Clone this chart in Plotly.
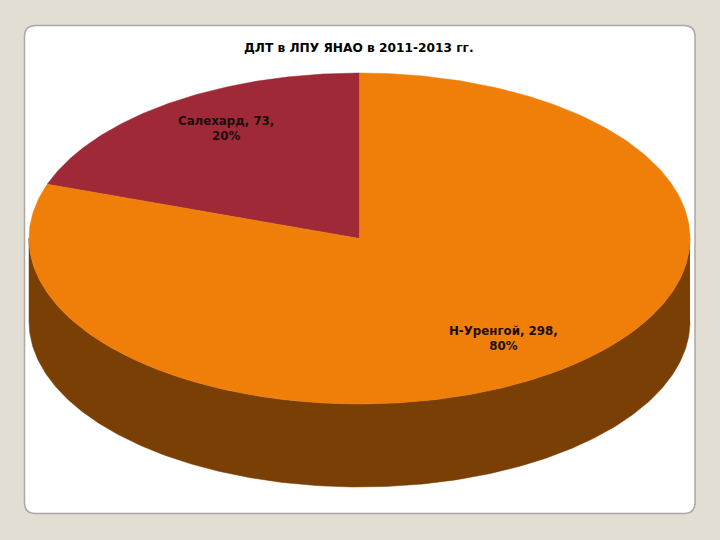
import numpy as np
import plotly.graph_objects as go

title = "ДЛТ в ЛПУ ЯНАО в 2011-2013 гг."
labels = ["Салехард", "Н-Уренгой"]
values = [73, 298]
percents = [20, 80]

top_colors = ["#9f2936", "#f07f09"]
side_color = "#793f04"
bg_color = "#e3ded4"

# ellipse of the pie in page pixels
cx, cy = 359.5, 238.5
rx, ry = 330.5, 165.5
depth = 83

def rim(a0, a1, drop=0):
    # angle is clockwise from 12 o'clock
    t = np.linspace(a0, a1, 300)
    return cx + rx * np.sin(t), cy - ry * np.cos(t) + drop

fig = go.Figure()

# side wall, front half of the ellipse only
x_top, y_top = rim(np.pi / 2, 3 * np.pi / 2)
x_low, y_low = rim(3 * np.pi / 2, np.pi / 2, depth)
fig.add_trace(go.Scatter(x=np.r_[x_top, x_low], y=np.r_[y_top, y_low], mode="lines",
                         fill="toself", fillcolor=side_color, line=dict(width=0.5, color=side_color),
                         hoverinfo="skip"))

# slices go anticlockwise from the top, as in the picture
total = sum(values)
start = 2 * np.pi
for label, value, color in zip(labels, values, top_colors):
    end = start - 2 * np.pi * value / total
    x, y = rim(start, end)
    fig.add_trace(go.Scatter(x=np.r_[cx, x, cx], y=np.r_[cy, y, cy], mode="lines",
                             fill="toself", fillcolor=color, line=dict(width=0.5, color=color),
                             name=label, hoverinfo="name"))
    start = end

label_pos = [(226, 128), (503, 338)]
for label, value, pct, (lx, ly) in zip(labels, values, percents, label_pos):
    fig.add_annotation(x=lx, y=ly, text=f"{label}, {value},<br>{pct}%", showarrow=False,
                       font=dict(family="DejaVu Sans", size=11.8, color="#1a0d0d", weight="bold"),
                       align="center")

fig.add_annotation(x=359, y=47.5, text=title, showarrow=False,
                   font=dict(family="DejaVu Sans", size=12.2, color="#000000", weight="bold"))

# white rounded panel behind the chart
x0, x1, y0, y1, r = 24.5, 695, 25.5, 513.5, 11
panel = (f"M {x0 + r} {y0} L {x1 - r} {y0} Q {x1} {y0} {x1} {y0 + r} L {x1} {y1 - r} "
         f"Q {x1} {y1} {x1 - r} {y1} L {x0 + r} {y1} Q {x0} {y1} {x0} {y1 - r} "
         f"L {x0} {y0 + r} Q {x0} {y0} {x0 + r} {y0} Z")
fig.add_shape(type="path", path=panel, fillcolor="#ffffff", line=dict(color="#a9a9a6", width=1.5),
              layer="below")

fig.update_xaxes(range=[0, 720], visible=False, fixedrange=True)
fig.update_yaxes(range=[540, 0], visible=False, fixedrange=True)
fig.update_layout(width=720, height=540, margin=dict(l=0, r=0, t=0, b=0), showlegend=False,
                  paper_bgcolor=bg_color, plot_bgcolor=bg_color)

# page has a default 8px body margin that would shift everything
fig.write_html("out.html", config=dict(displayModeBar=False),
               post_script="document.body.style.margin='0';document.body.style.background='" + bg_color + "';")
